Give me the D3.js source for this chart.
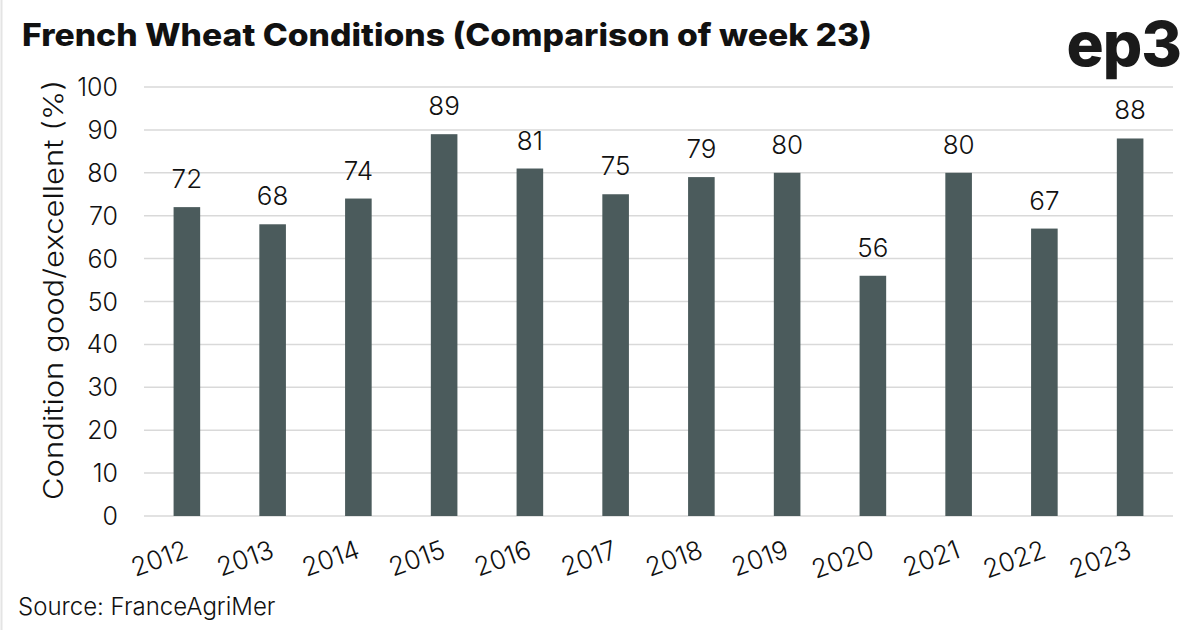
<!DOCTYPE html>
<html><head><meta charset="utf-8">
<script src="https://cdn.jsdelivr.net/npm/d3@7"></script>
<style>
html,body{margin:0;padding:0;background:#fff;}
svg{display:block;font-family:Inter,"Open Sans",sans-serif;}
</style></head>
<body>
<svg id="c" width="1200" height="630"></svg>
<script>
const years = ["2012","2013","2014","2015","2016","2017","2018","2019","2020","2021","2022","2023"];
const values = [72,68,74,89,81,75,79,80,56,80,67,88];
const yTicks = [0,10,20,30,40,50,60,70,80,90,100];

const svg = d3.select("#c");
const W=1200,H=630;
const LW = 300;
svg.append("rect").attr("width",W).attr("height",H).attr("fill","#fff");
svg.append("line").attr("x1",1.5).attr("x2",1.5).attr("y1",0).attr("y2",H).attr("stroke","#e4e4e4").attr("stroke-width",2);

const x = d3.scaleBand().domain(years).range([144,1173]).paddingInner(0.69).paddingOuter(0.345);
const y = d3.scaleLinear().domain([0,100]).range([516,87]);

// gridlines
svg.append("g").selectAll("line").data(yTicks).join("line")
  .attr("x1",144).attr("x2",1173)
  .attr("y1",d=>y(d)).attr("y2",d=>y(d))
  .attr("stroke","#d9d9d9").attr("stroke-width",1.5);

// y tick labels
svg.append("g").selectAll("text").data(yTicks).join("text")
  .attr("x",118).attr("y",d=>y(d)).attr("dy","0.36em")
  .attr("text-anchor","end").attr("font-size",25).attr("font-weight",LW).attr("fill","#111")
  .text(d=>d);

// bars
svg.append("g").selectAll("rect").data(values).join("rect")
  .attr("x",(d,i)=>x(years[i])).attr("width",x.bandwidth())
  .attr("y",d=>y(d)).attr("height",d=>y(0)-y(d))
  .attr("fill","#4b5b5c");

// value labels
svg.append("g").selectAll("text").data(values).join("text")
  .attr("x",(d,i)=>x(years[i])+x.bandwidth()/2).attr("y",d=>y(d)-19)
  .attr("text-anchor","middle").attr("font-size",26).attr("font-weight",LW).attr("fill","#111")
  .text(d=>d);

// x labels
svg.append("g").selectAll("text").data(years).join("text")
  .attr("transform",d=>`translate(${x(d)+x.bandwidth()/2+3},${557}) rotate(-20)`)
  .attr("text-anchor","end").attr("font-size",26).attr("font-weight",LW).attr("fill","#111")
  .text(d=>d);

// y axis title
svg.append("text").attr("transform","translate(63,290) rotate(-90)")
  .attr("text-anchor","middle").attr("font-size",27).attr("font-weight",LW).attr("fill","#111")
  .attr("textLength",420).attr("lengthAdjust","spacingAndGlyphs")
  .text("Condition good/excellent (%)");

// title
svg.append("text").attr("x",22).attr("y",46).attr("font-size",31).attr("font-weight",800).attr("fill","#111")
  .attr("textLength",850).attr("lengthAdjust","spacingAndGlyphs")
  .text("French Wheat Conditions (Comparison of week 23)");

// logo
svg.append("text").attr("x",1181).attr("y",66).attr("text-anchor","end").attr("font-size",62).attr("font-weight",800)
  .attr("letter-spacing",-1).attr("fill","#1a1a1a").text("ep3");

// source
svg.append("text").attr("x",18).attr("y",615).attr("font-size",24).attr("font-weight",LW).attr("fill","#111")
  .text("Source: FranceAgriMer");
</script>
</body></html>
